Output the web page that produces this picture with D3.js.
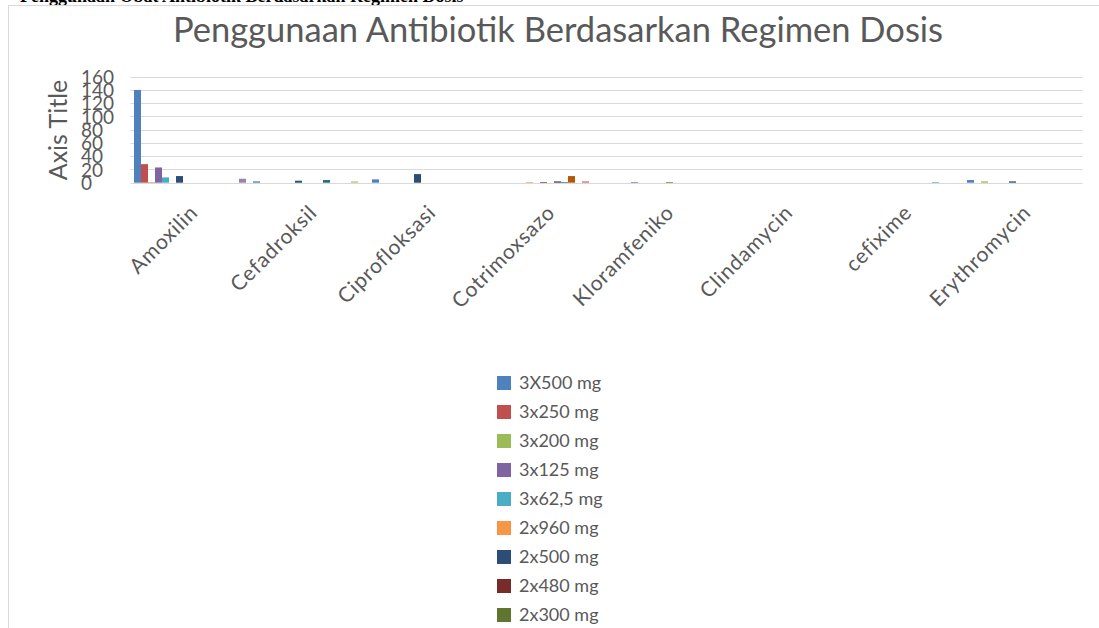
<!DOCTYPE html>
<html>
<head>
<meta charset="utf-8">
<script src="https://cdn.jsdelivr.net/npm/d3@7"></script>
<style>
  html, body { margin: 0; padding: 0; background: #fff; overflow: hidden; }
  svg { display: block; }
  text { font-family: Lato, "Open Sans", sans-serif; fill: #595959; }
</style>
</head>
<body>
<svg id="chart" width="1099" height="628"></svg>
<script>
// categories (as they show on the axis, Excel clips the long ones)
const categories = ["Amoxilin", "Cefadroksil", "Ciprofloksasi", "Cotrimoxsazo", "Kloramfeniko", "Clindamycin", "cefixime", "Erythromycin"];

const seriesNames = ["3X500 mg", "3x250 mg", "3x200 mg", "3x125 mg", "3x62,5 mg", "2x960 mg", "2x500 mg", "2x480 mg",
  "2x300 mg", "2x250 mg", "2x200 mg", "2x125 mg", "2x100 mg", "4x500 mg", "4x250 mg", "1x500 mg"];

const seriesColors = ["#4F81BD", "#C0504D", "#9BBB59", "#8064A2", "#4BACC6", "#F79646", "#2C4D75", "#772C2A",
  "#5F7530", "#4D3B62", "#276A7C", "#B65708", "#729ACA", "#CD7371", "#AFC97A", "#9983B5"];

// one row per series, one value per category
const values = [
  [140, 2, 5, 0, 0, 0, 0, 4],
  [28, 0, 0, 0, 0, 0, 0, 0],
  [1, 0, 0, 0, 0, 0, 0, 2],
  [23, 0, 0, 0, 1, 0, 0, 0],
  [8, 0, 0, 0, 0, 0, 0, 0],
  [0, 0, 0, 1, 0, 0, 0, 0],
  [10, 3, 13, 0, 0, 0, 0, 2],
  [0, 0, 0, 1, 0, 0, 0, 0],
  [0, 0, 0, 0, 1, 0, 0, 0],
  [0, 0, 0, 2, 0, 0, 0, 0],
  [0, 4, 0, 1, 0, 0, 0, 0],
  [0, 0, 0, 10, 0, 0, 0, 0],
  [0, 0, 0, 0, 0, 0, 1, 0],
  [0, 0, 0, 2, 0, 0, 0, 0],
  [0, 2, 0, 0, 0, 0, 0, 0],
  [6, 0, 0, 0, 0, 0, 0, 0]
];

const yTicks = [0, 20, 40, 60, 80, 100, 120, 140, 160];

const svg = d3.select("#chart");

// caption of the document above the chart, mostly cut off
svg.append("text")
  .attr("x", 20).attr("y", 1.5)
  .style("font-family", "'Liberation Serif', serif")
  .style("font-weight", "bold")
  .style("font-size", "18px")
  .style("fill", "#000")
  .text("Penggunaan Obat Antibiotik Berdasarkan Regimen Dosis");

// chart area border
svg.append("rect")
  .attr("x", 8.5).attr("y", 5.5)
  .attr("width", 1200).attr("height", 700)
  .attr("fill", "#fff")
  .attr("stroke", "#d9d9d9");

svg.append("text")
  .attr("x", 558).attr("y", 42)
  .attr("text-anchor", "middle")
  .style("font-size", "34.5px")
  .text("Penggunaan Antibiotik Berdasarkan Regimen Dosis");

const x0 = d3.scaleBand().domain(categories).range([130.5, 1082.5]).padding(0);
const x1 = d3.scaleBand().domain(seriesNames).range([0, x0.bandwidth()]).paddingInner(0).paddingOuter(0.5);
const y = d3.scaleLinear().domain([0, 160]).range([182.7, 76.7]);

// gridlines
svg.append("g")
  .selectAll("line")
  .data(yTicks)
  .join("line")
  .attr("x1", 130.5).attr("x2", 1082.5)
  .attr("y1", d => Math.round(y(d)) + 0.5)
  .attr("y2", d => Math.round(y(d)) + 0.5)
  .attr("stroke", "#d9d9d9");

// y labels, drawn left aligned like in the picture
const yAxis = svg.append("g")
  .attr("transform", "translate(81,0)")
  .call(d3.axisLeft(y).tickValues(yTicks).tickSize(0).tickFormat(d3.format("d")));
yAxis.select(".domain").remove();
yAxis.selectAll("text")
  .attr("x", 0)
  .attr("text-anchor", "start")
  .attr("dy", "0.35em")
  .style("font-size", "19px")
  .style("font-family", "Lato, sans-serif")
  .attr("fill", "#595959");

svg.append("text")
  .attr("transform", "translate(67,130) rotate(-90)")
  .attr("text-anchor", "middle")
  .style("font-size", "25px")
  .text("Axis Title");

// bars
const groups = svg.append("g")
  .selectAll("g")
  .data(seriesNames)
  .join("g")
  .attr("fill", (d, i) => seriesColors[i]);

groups.selectAll("rect")
  .data((s, i) => values[i].map((v, j) => ({ s: s, cat: categories[j], v: v })))
  .join("rect")
  .attr("x", d => x0(d.cat) + x1(d.s))
  .attr("width", x1.bandwidth())
  .attr("y", d => y(d.v))
  .attr("height", d => y(0) - y(d.v));

// x axis
const xAxis = svg.append("g")
  .attr("transform", "translate(0," + y(0) + ")")
  .call(d3.axisBottom(x0).tickSize(0));
xAxis.select(".domain").remove();
xAxis.selectAll("text")
  .attr("y", 0).attr("dy", "0.35em")
  .attr("transform", "translate(4,26) rotate(-45)")
  .attr("text-anchor", "end")
  .style("font-size", "21px")
  .style("letter-spacing", "0.8px")
  .style("font-family", "Lato, sans-serif")
  .attr("fill", "#595959");

// legend
const legend = svg.append("g")
  .selectAll("g")
  .data(seriesNames)
  .join("g")
  .attr("transform", (d, i) => "translate(497," + (376 + i * 29) + ")");
legend.append("rect")
  .attr("width", 14).attr("height", 14)
  .attr("fill", (d, i) => seriesColors[i]);
legend.append("text")
  .attr("x", 22).attr("y", 7).attr("dy", "0.35em")
  .style("font-size", "18px")
  .text(d => d);
</script>
</body>
</html>
